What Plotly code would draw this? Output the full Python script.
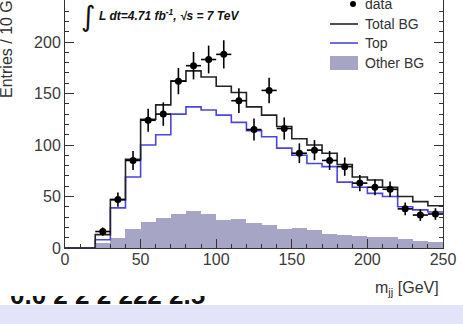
import plotly.graph_objects as go

# ---------------- data ----------------
bin_edges = list(range(0, 260, 10))          # 0 .. 250 GeV, 10 GeV bins
bin_centers = [e + 5 for e in bin_edges[:-1]]

top_bg = [0, 0, 8, 39, 69, 100, 110, 130, 137, 134, 129, 122, 114,
          108, 97, 90, 82, 79, 64, 59, 53, 50, 40, 37, 35]
other_bg = [0, 0, 5, 10, 18, 25, 29, 33, 36, 33, 27, 28, 24,
            22, 18, 19, 17, 14, 13, 12, 11, 11, 9, 7, 6]
total_bg = [0, 0, 13, 47, 86, 125, 139, 162, 172, 166, 157, 151, 137,
            129, 118, 106, 100, 92, 81, 69, 66, 59, 50, 45, 41]

data_x = [25, 35, 45, 55, 65, 75, 85, 95, 105, 115, 125, 135, 145,
          155, 165, 175, 185, 195, 205, 215, 225, 235, 245]
data_y = [16, 47, 85, 124, 130, 162, 177, 183, 188, 143, 115, 153, 116,
          92, 95, 85, 79, 63, 59, 57, 38, 32, 33]
data_yerr = [4, 6.9, 9.2, 11.1, 11.4, 12.7, 13.3, 13.5, 13.7, 12.0, 10.7, 12.4, 10.8,
             9.6, 9.7, 9.2, 8.9, 7.9, 7.7, 7.5, 6.2, 5.7, 5.7]
data_xerr = [5] * len(data_x)

x_ticks = [0, 50, 100, 150, 200, 250]
y_ticks = [0, 50, 100, 150, 200]

legend_labels = ["data", "Total BG", "Top", "Other BG"]

# ---------------- geometry helpers ----------------
W, H = 463, 324
PL, PR, PT, PB = 65, 443, 0, 248   # plot area in pixels


def px(x):
    return x / W


def py(y):
    return 1 - y / H


TXT = "#333333"
FONT = "Liberation Sans, Arial, Helvetica, sans-serif"
BLUE = "#4a44e0"
FILL = "#a7a5c6"

fig = go.Figure()

# Other BG (filled histogram)
fig.add_trace(go.Bar(x=bin_centers, y=other_bg, width=10,
                     marker=dict(color=FILL, line=dict(width=0)),
                     showlegend=False, xaxis="x", yaxis="y"))

# Top (blue step line)
fig.add_trace(go.Scatter(x=bin_edges, y=top_bg + [top_bg[-1]], mode="lines",
                         line=dict(color=BLUE, width=1.6, shape="hv"),
                         showlegend=False))

# Total BG (black step line)
fig.add_trace(go.Scatter(x=bin_edges, y=total_bg + [total_bg[-1]], mode="lines",
                         line=dict(color="#222222", width=1.6, shape="hv"),
                         showlegend=False))

# data
fig.add_trace(go.Scatter(x=data_x, y=data_y, mode="markers",
                         marker=dict(color="black", size=7),
                         error_y=dict(type="data", array=data_yerr, width=0,
                                      thickness=1.6, color="black"),
                         error_x=dict(type="data", array=data_xerr, width=0,
                                      thickness=1.6, color="black"),
                         showlegend=False))

# clipped fragment of text at the bottom edge
fig.add_trace(go.Scatter(x=[10], y=[0.82], mode="text",
                         text=["<b>0.0 2 2 2 222 2.5</b>"],
                         textposition="middle right",
                         textfont=dict(size=26, color="#111111", family=FONT),
                         cliponaxis=True, showlegend=False,
                         xaxis="x2", yaxis="y2", hoverinfo="skip"))

axis_common = dict(showline=True, linecolor=TXT, linewidth=1,
                   ticks="inside", ticklen=9, tickwidth=1, tickcolor=TXT,
                   showgrid=False, zeroline=False,
                   tickfont=dict(size=16, color="#3a3a3a", family=FONT),
                   automargin=False)

fig.update_layout(
    width=W, height=H,
    margin=dict(l=0, r=0, t=0, b=0),
    paper_bgcolor="white", plot_bgcolor="white",
    bargap=0, showlegend=False,
    xaxis=dict(domain=[px(PL), px(PR)], range=[0, 250],
               tickvals=x_ticks, anchor="y", ticklabelstandoff=-3,
               minor=dict(ticks="inside", ticklen=4, dtick=10, tick0=0,
                          tickcolor=TXT, tickwidth=1),
               **axis_common),
    yaxis=dict(domain=[py(PB), py(PT)], range=[0, 248 / 1.03],
               tickvals=y_ticks, anchor="x", mirror="ticks",
               minor=dict(ticks="inside", ticklen=4, dtick=10, tick0=0,
                          tickcolor=TXT, tickwidth=1),
               **axis_common),
    xaxis2=dict(domain=[0, px(215)], range=[0, 215], visible=False,
                anchor="y2", fixedrange=True),
    yaxis2=dict(domain=[py(305), py(296)], range=[0, 1], visible=False,
                anchor="x2", fixedrange=True),
)

annotations = []
# axis titles
annotations.append(dict(text="Entries / 10 GeV", x=px(6), y=py(100),
                        xref="paper", yref="paper", xanchor="center", yanchor="bottom",
                        textangle=-90, showarrow=False,
                        font=dict(size=16, color=TXT, family=FONT)))
annotations.append(dict(text="m<sub>jj</sub> [GeV]", x=px(441), y=py(288),
                        xref="paper", yref="paper", xanchor="right", yanchor="middle",
                        showarrow=False, font=dict(size=16, color=TXT, family=FONT)))
# luminosity label
annotations.append(dict(text="∫", x=px(88), y=py(16),
                        xref="paper", yref="paper", xanchor="center", yanchor="middle",
                        showarrow=False, font=dict(size=28, color="#111111", family="DejaVu Sans")))
annotations.append(dict(text="<b><i>L dt=4.71 fb<sup>-1</sup>, √s = 7 TeV</i></b>",
                        x=px(97), y=py(15),
                        xref="paper", yref="paper", xanchor="left", yanchor="middle",
                        showarrow=False, font=dict(size=12, color="#111111", family=FONT)))

# manual legend
leg_sym_x0, leg_sym_x1, leg_txt_x = 330, 358, 363
leg_rows = [4, 24, 43, 63]
shapes = []
for label, yrow in zip(legend_labels, leg_rows):
    annotations.append(dict(text=label, x=px(leg_txt_x), y=py(yrow),
                            xref="paper", yref="paper", xanchor="left", yanchor="middle",
                            showarrow=False, font=dict(size=14, color=TXT, family=FONT)))
# data marker
shapes.append(dict(type="circle", xref="paper", yref="paper",
                   x0=px(350), x1=px(356), y0=py(7), y1=py(1),
                   fillcolor="black", line=dict(width=0)))
shapes.append(dict(type="line", xref="paper", yref="paper",
                   x0=px(leg_sym_x0), x1=px(leg_sym_x1), y0=py(leg_rows[1]), y1=py(leg_rows[1]),
                   line=dict(color="#222222", width=1.6)))
shapes.append(dict(type="line", xref="paper", yref="paper",
                   x0=px(leg_sym_x0), x1=px(leg_sym_x1), y0=py(leg_rows[2]), y1=py(leg_rows[2]),
                   line=dict(color=BLUE, width=1.6)))
shapes.append(dict(type="rect", xref="paper", yref="paper",
                   x0=px(leg_sym_x0), x1=px(leg_sym_x1), y0=py(70), y1=py(56),
                   fillcolor=FILL, line=dict(width=0)))
# lavender band at the bottom
shapes.append(dict(type="rect", xref="paper", yref="paper",
                   x0=0, x1=1, y0=0, y1=py(305),
                   fillcolor="#e3e3f9", line=dict(width=0), layer="above"))

fig.update_layout(annotations=annotations, shapes=shapes)

fig.write_html("out.html")
